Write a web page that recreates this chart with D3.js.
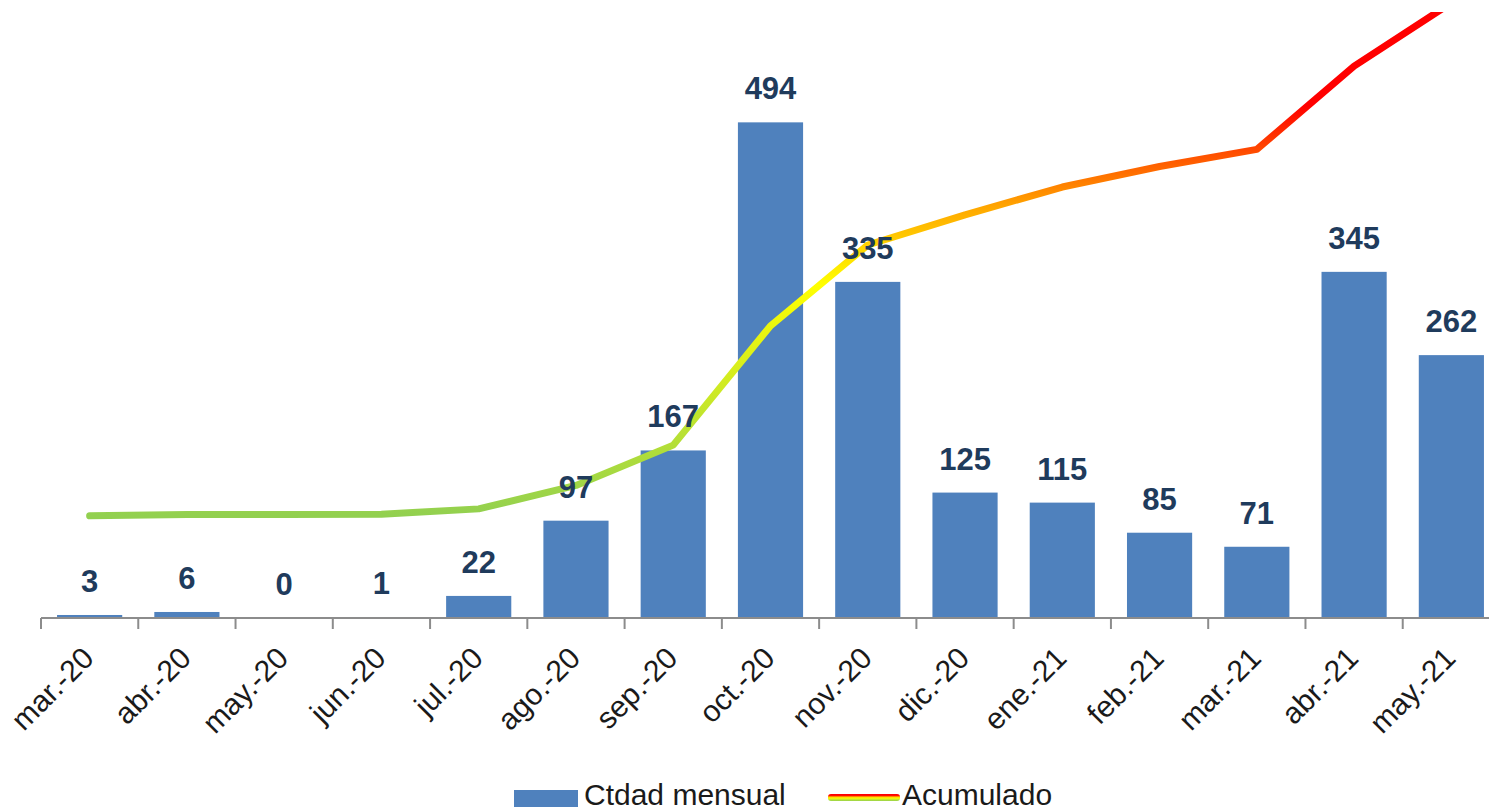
<!DOCTYPE html>
<html>
<head>
<meta charset="utf-8">
<script src="https://cdn.jsdelivr.net/npm/d3@7/dist/d3.min.js"></script>
<style>
  html, body { margin: 0; padding: 0; background: #fff; }
  svg { display: block; font-family: "Liberation Sans", Arial, sans-serif; }
</style>
</head>
<body>
<div id="chart"></div>
<script>
// monthly counts + running total
var months = ['mar.-20','abr.-20','may.-20','jun.-20','jul.-20','ago.-20','sep.-20','oct.-20',
              'nov.-20','dic.-20','ene.-21','feb.-21','mar.-21','abr.-21','may.-21'];
var monthly = [3, 6, 0, 1, 22, 97, 167, 494, 335, 125, 115, 85, 71, 345, 262];
var cumulative = [3, 9, 9, 10, 32, 129, 296, 790, 1125, 1250, 1365, 1450, 1521, 1866, 2128];
var legendLabels = ['Ctdad mensual', 'Acumulado'];

var W = 1489, H = 811;
var BAR = '#4F81BD', LABEL = '#1F3B5C', AXIS = '#8C8C8C';

var svg = d3.select('#chart').append('svg').attr('width', W).attr('height', H);
var defs = svg.append('defs');

var x = d3.scaleBand().domain(months).range([41, 1500]).paddingInner(0.33).paddingOuter(0.165);
var y = d3.scaleLinear().domain([0, 600]).range([618, 16]);
// hidden secondary axis for the running total
var y2 = d3.scaleLinear().domain([-420, 2090]).range([618, 12]);

defs.append('clipPath').attr('id', 'plotClip')
  .append('rect').attr('x', 0).attr('y', 12).attr('width', W).attr('height', 620);

// vertical gradient on the total line: green at the bottom, red at the top
var stops = [[0, '#92D050'], [0.45, '#FFFF00'], [0.6, '#FFA800'], [0.8, '#FF0000'], [1, '#FF0000']];
var grad = defs.append('linearGradient').attr('id', 'cumGrad')
  .attr('gradientUnits', 'userSpaceOnUse')
  .attr('x1', 0).attr('x2', 0)
  .attr('y1', y2(cumulative[0])).attr('y2', y2(d3.max(cumulative)));
stops.forEach(function(s){ grad.append('stop').attr('offset', s[0]).attr('stop-color', s[1]); });

// bars
svg.append('g').selectAll('rect')
  .data(monthly)
  .enter().append('rect')
  .attr('x', function(d, i){ return x(months[i]); })
  .attr('y', function(d){ return y(d); })
  .attr('width', x.bandwidth())
  .attr('height', function(d){ return y(0) - y(d); })
  .attr('fill', BAR);

// x axis: line, ticks at band edges, rotated labels
var step = x.step();
var ax = svg.append('g');
ax.append('line')
  .attr('x1', x.range()[0]).attr('x2', x.range()[1])
  .attr('y1', y(0)).attr('y2', y(0))
  .attr('stroke', AXIS).attr('stroke-width', 2);
ax.selectAll('.tick')
  .data(d3.range(months.length + 1))
  .enter().append('line')
  .attr('x1', function(i){ return x.range()[0] + i * step; })
  .attr('x2', function(i){ return x.range()[0] + i * step; })
  .attr('y1', y(0)).attr('y2', y(0) + 11)
  .attr('stroke', AXIS).attr('stroke-width', 2);
ax.selectAll('.lbl')
  .data(months)
  .enter().append('text')
  .attr('transform', function(d){
    return 'translate(' + (x(d) + x.bandwidth() / 2 + 6) + ',' + 660 + ') rotate(-45)';
  })
  .attr('text-anchor', 'end')
  .attr('font-size', 30)
  .attr('fill', '#1A1A1A')
  .text(function(d){ return d; });

// running total line
var line = d3.line()
  .x(function(d, i){ return x(months[i]) + x.bandwidth() / 2; })
  .y(function(d){ return y2(d); });
svg.append('path')
  .datum(cumulative)
  .attr('clip-path', 'url(#plotClip)')
  .attr('d', line)
  .attr('fill', 'none')
  .attr('stroke', 'url(#cumGrad)')
  .attr('stroke-width', 7)
  .attr('stroke-linejoin', 'round')
  .attr('stroke-linecap', 'round');

// value labels above the bars
svg.append('g').selectAll('text')
  .data(monthly)
  .enter().append('text')
  .attr('x', function(d, i){ return x(months[i]) + x.bandwidth() / 2; })
  .attr('y', function(d){ return y(d) - 23; })
  .attr('text-anchor', 'middle')
  .attr('font-size', 31)
  .attr('font-weight', 'bold')
  .attr('fill', LABEL)
  .text(function(d){ return d; });

// legend
var lg = svg.append('g');
lg.append('rect').attr('x', 514).attr('y', 790).attr('width', 64).attr('height', 17).attr('fill', BAR);
lg.append('text').attr('x', 584).attr('y', 805).attr('font-size', 30).attr('fill', '#1A1A1A').text(legendLabels[0]);

var lgGrad = defs.append('linearGradient').attr('id', 'legGrad')
  .attr('gradientUnits', 'userSpaceOnUse')
  .attr('x1', 0).attr('x2', 0).attr('y1', 801).attr('y2', 794);
stops.forEach(function(s){ lgGrad.append('stop').attr('offset', s[0]).attr('stop-color', s[1]); });
lg.append('rect').attr('x', 828).attr('y', 794).attr('width', 72).attr('height', 7)
  .attr('rx', 3).attr('fill', 'url(#legGrad)');
lg.append('text').attr('x', 902).attr('y', 805).attr('font-size', 30).attr('fill', '#1A1A1A').text(legendLabels[1]);
</script>
</body>
</html>
